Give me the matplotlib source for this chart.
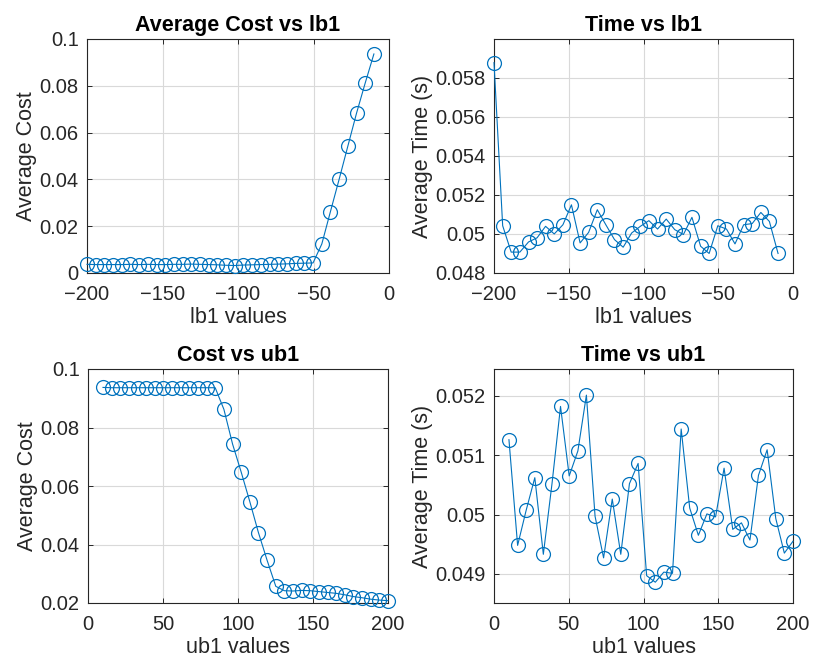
import matplotlib
matplotlib.use("Agg")
import matplotlib.pyplot as plt
from matplotlib.ticker import FuncFormatter

plt.rcParams['font.family'] = ['Liberation Sans', 'DejaVu Sans']

# ---- data ----
lb1_values = [-200.0, -194.2, -188.5, -182.7, -176.9, -171.2, -165.5, -159.7,
              -153.9, -148.2, -142.4, -136.7, -130.9, -125.2, -119.4, -113.6,
              -107.9, -102.1, -96.4, -90.6, -84.8, -79.1, -73.3, -67.6,
              -61.8, -56.1, -50.3, -44.5, -38.8, -33.0, -27.3, -21.5, -15.8, -10.0]
ub1_values = [10.0, 15.8, 21.5, 27.3, 33.0, 38.8, 44.5, 50.3, 56.1, 61.8,
              67.6, 73.3, 79.1, 84.8, 90.6, 96.4, 102.1, 107.9, 113.6, 119.4,
              125.2, 130.9, 136.7, 142.4, 148.2, 153.9, 159.7, 165.5, 171.2,
              176.9, 182.7, 188.5, 194.2, 200.0]

cost_lb1 = [0.0037, 0.0036, 0.0036, 0.0036, 0.0036, 0.0037, 0.0036, 0.0037,
            0.0036, 0.0036, 0.0037, 0.0037, 0.0038, 0.0037, 0.0036, 0.0035,
            0.0033, 0.0032, 0.0034, 0.0035, 0.0036, 0.0037, 0.0038, 0.0039,
            0.0041, 0.0042, 0.0043, 0.0124, 0.0262, 0.0401, 0.0541, 0.0683,
            0.0811, 0.0936]

time_lb1 = [0.05877, 0.05042, 0.04907, 0.04907, 0.04959, 0.04980, 0.05039,
            0.05000, 0.05047, 0.05149, 0.04954, 0.05008, 0.05124, 0.05047,
            0.04971, 0.04932, 0.05005, 0.05039, 0.05068, 0.05025, 0.05076,
            0.05022, 0.04997, 0.05085, 0.04937, 0.04900, 0.05042, 0.05025,
            0.04949, 0.05047, 0.05053, 0.05110, 0.05064, 0.04900]

cost_ub1 = [0.0937, 0.0936, 0.0936, 0.0936, 0.0936, 0.0936, 0.0936, 0.0936,
            0.0936, 0.0936, 0.0936, 0.0936, 0.0936, 0.0936, 0.0862, 0.0743,
            0.0648, 0.0546, 0.0441, 0.0346, 0.0257, 0.0242, 0.0241, 0.0243,
            0.0242, 0.0239, 0.0236, 0.0233, 0.0228, 0.0222, 0.0218, 0.0213,
            0.0210, 0.0208]

time_ub1 = [0.05126, 0.04948, 0.05007, 0.05062, 0.04933, 0.05052, 0.05182,
            0.05065, 0.05107, 0.05201, 0.04997, 0.04927, 0.05026, 0.04933,
            0.05052, 0.05086, 0.04897, 0.04886, 0.04903, 0.04901, 0.05144,
            0.05011, 0.04965, 0.05001, 0.04996, 0.05078, 0.04975, 0.04986,
            0.04957, 0.05066, 0.05109, 0.04993, 0.04935, 0.04955]

lb_ticks = [-200, -150, -100, -50, 0]
ub_ticks = [0, 50, 100, 150, 200]
cost_lb_ticks = [0, 0.02, 0.04, 0.06, 0.08, 0.1]
time_lb_ticks = [0.048, 0.05, 0.052, 0.054, 0.056, 0.058]
cost_ub_ticks = [0.02, 0.04, 0.06, 0.08, 0.1]
time_ub_ticks = [0.049, 0.05, 0.051, 0.052]

# ---- style ----
BLUE = '#0072BD'
W, H = 813, 662
fig = plt.figure(figsize=(W / 100, H / 100), dpi=100)


def px_axes(left, top, right, bottom):
    return fig.add_axes([left / W, 1 - bottom / H, (right - left) / W, (bottom - top) / H])


def fmt(v, pos):
    return ('%g' % round(v, 6)).replace('-', '\u2212')


def style(ax, x, y, title, xlabel, ylabel, xlim, ylim, xticks, yticks):
    ax.plot(x, y, '-o', color=BLUE, lw=0.8, markersize=10,
            markerfacecolor='none', markeredgewidth=0.9, clip_on=False, zorder=3)
    ax.set_xlim(*xlim)
    ax.set_ylim(*ylim)
    ax.set_xticks(xticks)
    ax.set_yticks(yticks)
    ax.xaxis.set_major_formatter(FuncFormatter(fmt))
    ax.yaxis.set_major_formatter(FuncFormatter(fmt))
    ax.grid(True, color='#d9d9d9', lw=0.8)
    ax.set_axisbelow(True)
    ax.tick_params(direction='in', top=True, right=True, length=3.5, width=0.7,
                   labelsize=14.5, colors='#262626', pad=6)
    ax.tick_params(axis='x', pad=9)
    for s in ax.spines.values():
        s.set_color('#262626')
        s.set_linewidth(0.8)
    ax.set_title(title, fontsize=15.5, fontweight='bold', pad=6)
    ax.set_xlabel(xlabel, fontsize=15.5, color='#262626', labelpad=2)
    ax.set_ylabel(ylabel, fontsize=15.5, color='#262626', labelpad=2)


ax1 = px_axes(87, 39, 389, 273)
style(ax1, lb1_values, cost_lb1, 'Average Cost vs lb1', 'lb1 values', 'Average Cost',
      (-200, 0), (0, 0.1), lb_ticks, cost_lb_ticks)

ax2 = px_axes(494, 39, 793, 273)
style(ax2, lb1_values, time_lb1, 'Time vs lb1', 'lb1 values', 'Average Time (s)',
      (-200, 0), (0.048, 0.05998), lb_ticks, time_lb_ticks)

ax3 = px_axes(88, 369, 388, 603)
style(ax3, ub1_values, cost_ub1, 'Cost vs ub1', 'ub1 values', 'Average Cost',
      (0, 200), (0.02, 0.1), ub_ticks, cost_ub_ticks)

ax4 = px_axes(494, 369, 793, 603)
style(ax4, ub1_values, time_ub1, 'Time vs ub1', 'ub1 values', 'Average Time (s)',
      (0, 200), (0.04851, 0.05245), ub_ticks, time_ub_ticks)

fig.savefig('out.png', dpi=100, facecolor='white')
